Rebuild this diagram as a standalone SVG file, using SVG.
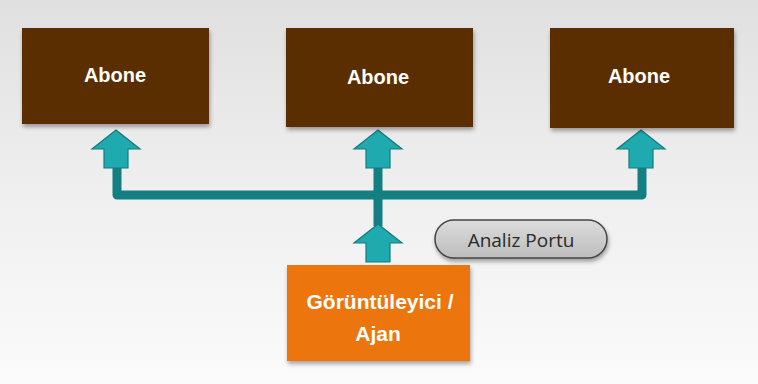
<svg xmlns="http://www.w3.org/2000/svg" width="758" height="384" viewBox="0 0 758 384">
<defs>
<linearGradient id="bg" x1="0" y1="0" x2="0" y2="1">
<stop offset="0" stop-color="#e0e0e0"/>
<stop offset="0.5" stop-color="#efefef"/>
<stop offset="1" stop-color="#fbfbfb"/>
</linearGradient>
<linearGradient id="pill" x1="0" y1="0" x2="0" y2="1">
<stop offset="0" stop-color="#dcdcdc"/>
<stop offset="1" stop-color="#bdbdbd"/>
</linearGradient>
<filter id="sh" x="-10%" y="-10%" width="130%" height="130%">
<feGaussianBlur in="SourceAlpha" stdDeviation="2"/>
<feOffset dx="1" dy="3"/>
<feComponentTransfer><feFuncA type="linear" slope="0.35"/></feComponentTransfer>
<feMerge><feMergeNode/><feMergeNode in="SourceGraphic"/></feMerge>
</filter>
<path id="arw" d="M0,0 L24,19 L12,19 L12,38 L-12,38 L-12,19 L-24,19 Z"/>
</defs>
<style>
.box{fill:#5a2e05;filter:url(#sh)}
.lbl{font-family:"Liberation Sans",Arial,sans-serif;font-weight:bold;fill:#ffffff;text-anchor:middle}
.line{fill:none;stroke:#137f83;stroke-width:9;stroke-linejoin:round}
.arrow{fill:#1eaaae;stroke:#127c80;stroke-width:1.2;stroke-linejoin:miter}
</style>
<rect x="0" y="0" width="758" height="384" fill="url(#bg)"/>
<g id="connectors">
<path class="line" d="M117,166 L117,195 L642,195 L642,166"/>
<path class="line" d="M378,166 L378,226"/>
<use href="#arw" class="arrow" x="116" y="130"/>
<use href="#arw" class="arrow" x="378" y="130"/>
<use href="#arw" class="arrow" x="641" y="130"/>
<use href="#arw" class="arrow" x="378" y="224"/>
</g>
<g id="abone1">
<rect class="box" x="22" y="28" width="187" height="96"/>
<text class="lbl" x="115" y="82" font-size="20">Abone</text>
</g>
<g id="abone2">
<rect class="box" x="286" y="28" width="187" height="99"/>
<text class="lbl" x="378" y="84" font-size="20">Abone</text>
</g>
<g id="abone3">
<rect class="box" x="550" y="28" width="184" height="100"/>
<text class="lbl" x="639" y="83" font-size="20">Abone</text>
</g>
<g id="analiz">
<rect x="435" y="220" width="172" height="38" rx="19" fill="url(#pill)" stroke="#444" stroke-width="1.5" filter="url(#sh)"/>
<text x="521" y="247" font-family="'Open Sans','Liberation Sans',sans-serif" font-size="19" fill="#2a2a2a" text-anchor="middle">Analiz Portu</text>
</g>
<g id="ajan">
<rect x="287" y="265" width="183" height="96" fill="#ec760e" filter="url(#sh)"/>
<text class="lbl" x="380" y="309" font-size="21" fill="#fdf3e3">Görüntüleyici /</text>
<text class="lbl" x="378" y="341" font-size="21">Ajan</text>
</g>
</svg>
